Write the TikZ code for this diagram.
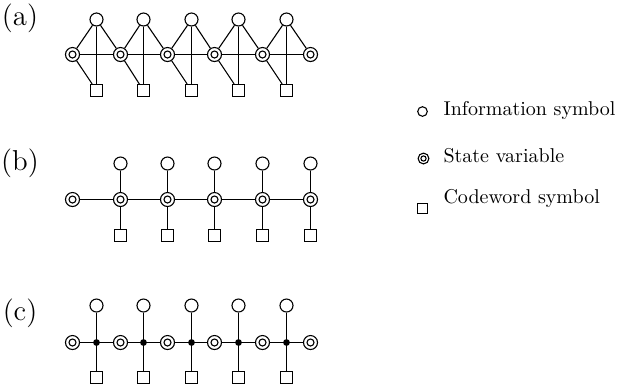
\documentclass[tikz,border=0pt]{standalone}
\usepackage{fontspec}
\begin{document}
\begin{tikzpicture}[x=0.5pt,y=-0.5pt,line width=0.55pt,
  info/.style={draw,circle,inner sep=0pt,minimum size=6.5pt,fill=white},
  state/.style={draw,circle,inner sep=0pt,minimum size=7pt,fill=white,
    path picture={\draw[line width=0.55pt] (path picture bounding box.center) circle (1.75pt);}},
  cw/.style={draw,rectangle,inner sep=0pt,minimum size=6pt,fill=white},
  dotnode/.style={fill,circle,inner sep=0pt,minimum size=3.4pt},
  linfo/.style={draw,circle,inner sep=0pt,minimum size=4.8pt},
  lstate/.style={draw,circle,inner sep=0pt,minimum size=5.4pt,
    path picture={\draw[line width=0.55pt] (path picture bounding box.center) circle (1.3pt);}},
  lcw/.style={draw,rectangle,inner sep=0pt,minimum size=4.8pt},
  lab/.style={font=\fontsize{14.4}{17}\selectfont,inner sep=0pt},
  legtext/.style={anchor=base west,inner sep=0pt,font=\fontsize{10}{12}\selectfont\addfontfeature{LetterSpace=7}}]
\useasboundingbox (0,0) rectangle (626,388);

% labels
\node[lab] (la) at (20,18) {(a)};
\node[lab] (lb) at (20,163) {(b)};
\node[lab] (lc) at (20,313) {(c)};

% ---------- (a)
\foreach \x [count=\i from 0] in {72.5,120.5,167.5,214.5,262.5,310.5}{
  \node[state] (as\i) at (\x,54.5) {};
}
\foreach \x [count=\i from 0] in {96.5,143.5,191.5,238.5,286.5}{
  \node[info] (at\i) at (\x,19.5) {};
  \node[cw] (ac\i) at (\x,90.5) {};
}
\foreach \i [evaluate=\i as \j using int(\i+1)] in {0,...,4}{
  \draw (as\i) -- (as\j);
  \draw (at\i) -- (as\i);
  \draw (at\i) -- (as\j);
  \draw (at\i) -- (ac\i);
  \draw (as\i) -- (ac\i);
}

% ---------- (b)
\node[state] (bs0) at (72.5,199.5) {};
\foreach \x [count=\i from 1] in {120.5,167.5,214.5,262.5,310.5}{
  \node[state] (bs\i) at (\x,199.5) {};
  \node[info] (bt\i) at (\x,163.5) {};
  \node[cw] (bc\i) at (\x,235.5) {};
}
\foreach \i [evaluate=\i as \k using int(\i-1)] in {1,...,5}{
  \draw (bs\k) -- (bs\i);
  \draw (bt\i) -- (bs\i);
  \draw (bs\i) -- (bc\i);
}

% ---------- (c)
\foreach \x [count=\i from 0] in {72.5,120.5,167.5,214.5,262.5,310.5}{
  \node[state] (cs\i) at (\x,342.5) {};
}
\foreach \x [count=\i from 0] in {96.5,143.5,191.5,238.5,286.5}{
  \node[dotnode] (cd\i) at (\x,342.5) {};
  \node[info] (ct\i) at (\x,305.5) {};
  \node[cw] (cc\i) at (\x,377.5) {};
}
\foreach \i [evaluate=\i as \j using int(\i+1)] in {0,...,4}{
  \draw (cs\i) -- (cd\i) -- (cs\j);
  \draw (ct\i) -- (cd\i) -- (cc\i);
}

% ---------- legend
\node[linfo] (g1) at (422.5,111.5) {};
\node[lstate] (g2) at (423.5,158.5) {};
\node[lcw] (g3) at (422.5,208.5) {};
\node[legtext] (t1) at (443,115) {Information symbol};
\node[legtext] (t2) at (443,162) {State variable};
\node[legtext] (t3) at (443,203) {Codeword symbol};
\end{tikzpicture}
\end{document}
